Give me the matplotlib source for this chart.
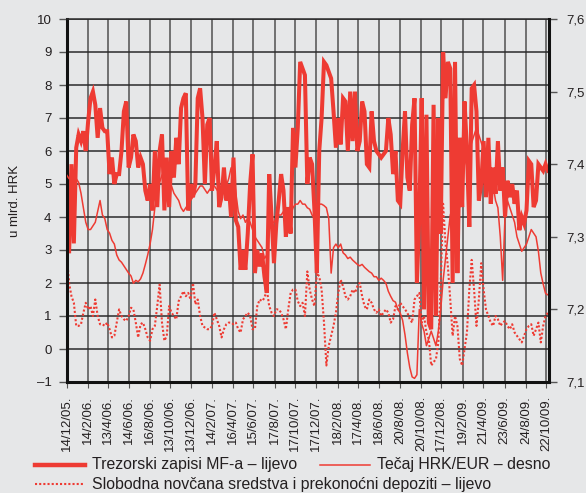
import matplotlib
matplotlib.use('Agg')
import matplotlib.pyplot as plt
import matplotlib.dates as mdates
from matplotlib.lines import Line2D
from matplotlib.ticker import FixedLocator, FuncFormatter
import pandas as pd

plt.rcParams['font.family'] = ['Liberation Sans', 'DejaVu Sans']

# ---------------- data (weekly observations from 14/12/2005) ----------------
start_date = '2005-12-14'

treasury_bills = [  # Trezorski zapisi MF-a, bn HRK (left axis)
    5.7, 2.9, 5.6, 3.2, 6.1, 6.5, 6.3, 6.6, 6.0, 6.9,
    7.6, 7.8, 7.4, 6.4, 7.3, 6.7, 6.6, 6.6, 5.3, 5.8,
    5.0, 5.3, 5.3, 6.0, 7.2, 7.5, 5.5, 5.8, 6.5, 6.3,
    5.5, 5.8, 5.6, 4.8, 4.5, 5.0, 4.2, 6.0, 4.3, 6.0,
    6.5, 4.2, 5.8, 4.3, 6.0, 5.2, 6.4, 5.6, 7.3, 7.6,
    7.75, 4.2, 5.0, 4.6, 5.0, 7.6, 7.9, 7.0, 5.0, 6.8,
    7.0, 4.8, 5.5, 6.3, 4.3, 4.6, 5.5, 4.5, 5.0, 4.0,
    5.8, 3.9, 3.7, 2.4, 3.0, 2.4, 3.5, 5.0, 5.9, 2.3,
    3.0, 2.5, 2.9, 2.2, 1.7, 5.3, 4.0, 2.6, 3.8, 4.5,
    5.3, 4.8, 3.4, 4.3, 3.5, 6.7, 5.5, 6.7, 8.7, 8.5,
    8.3, 5.0, 5.8, 5.6, 4.2, 2.3, 6.0, 7.0, 8.7, 8.6,
    8.4, 8.2, 7.2, 6.1, 7.0, 6.2, 7.6, 7.5, 6.0, 7.8,
    6.3, 7.8, 6.0, 6.3, 7.5, 7.2, 5.6, 5.5, 7.2, 6.3,
    6.0, 5.9, 5.8, 5.9, 6.0, 7.0, 6.5, 5.3, 6.0, 4.5,
    4.4, 6.0, 7.2, 5.2, 4.8, 6.8, 7.6, 2.0, 4.0, 7.6,
    1.2, 7.1, 0.8, 0.6, 7.4, 1.0, 7.0, 3.5, 9.0, 7.6,
    8.7, 8.5, 2.0, 8.7, 2.3, 6.4, 4.3, 7.5, 6.0, 3.7,
    7.9, 8.0, 7.2, 4.5, 5.0, 6.3, 4.6, 6.4, 4.4, 5.5,
    4.7, 6.3, 4.8, 5.5, 4.0, 5.1, 4.6, 5.0, 4.4, 4.8,
    3.6, 4.0, 3.8, 4.2, 5.7, 5.6, 4.3, 4.5, 5.6, 5.5,
    5.4, 5.6, 5.4,
]

hrk_eur = [  # Tečaj HRK/EUR (right axis)
    7.385, 7.380, 7.380, 7.382, 7.380, 7.375, 7.360, 7.340, 7.320, 7.310,
    7.310, 7.315, 7.320, 7.335, 7.350, 7.330, 7.325, 7.310, 7.305, 7.295,
    7.290, 7.275, 7.268, 7.265, 7.260, 7.255, 7.250, 7.246, 7.236, 7.240,
    7.238, 7.242, 7.250, 7.262, 7.275, 7.290, 7.310, 7.340, 7.360, 7.375,
    7.385, 7.390, 7.380, 7.375, 7.370, 7.360, 7.355, 7.350, 7.340, 7.335,
    7.340, 7.345, 7.350, 7.355, 7.360, 7.365, 7.370, 7.370, 7.365, 7.360,
    7.365, 7.370, 7.370, 7.365, 7.360, 7.360, 7.365, 7.370, 7.380, 7.395,
    7.390, 7.360, 7.335, 7.325, 7.330, 7.320, 7.325, 7.320, 7.310, 7.300,
    7.295, 7.290, 7.285, 7.270, 7.275, 7.310, 7.320, 7.320, 7.325, 7.330,
    7.330, 7.335, 7.330, 7.325, 7.330, 7.340, 7.345, 7.345, 7.350, 7.345,
    7.345, 7.340, 7.338, 7.330, 7.325, 7.330, 7.345, 7.345, 7.343, 7.340,
    7.325, 7.250, 7.285, 7.290, 7.285, 7.290, 7.278, 7.275, 7.270, 7.272,
    7.268, 7.265, 7.262, 7.260, 7.262, 7.258, 7.255, 7.252, 7.250, 7.245,
    7.245, 7.240, 7.243, 7.240, 7.236, 7.225, 7.218, 7.212, 7.210, 7.200,
    7.195, 7.185, 7.165, 7.140, 7.120, 7.107, 7.105, 7.110, 7.200, 7.180,
    7.170, 7.150, 7.160, 7.170, 7.160, 7.150, 7.170, 7.200, 7.240, 7.270,
    7.300, 7.330, 7.340, 7.360, 7.370, 7.380, 7.390, 7.400, 7.410, 7.420,
    7.430, 7.440, 7.450, 7.440, 7.430, 7.420, 7.410, 7.400, 7.385, 7.370,
    7.350, 7.340, 7.300, 7.240, 7.330, 7.350, 7.340, 7.330, 7.320, 7.300,
    7.290, 7.280, 7.285, 7.290, 7.300, 7.310, 7.305, 7.300, 7.280, 7.250,
    7.235, 7.222, 7.220,
]

free_reserves = [  # Slobodna novčana sredstva i prekonoćni depoziti (left axis)
    2.9, 2.0, 1.6, 1.4, 0.7, 0.7, 0.75, 1.1, 1.4, 1.2,
    1.3, 1.0, 1.5, 1.0, 0.75, 0.75, 0.7, 0.8, 0.6, 0.35,
    0.4, 0.8, 1.2, 1.0, 0.9, 0.85, 1.0, 1.25, 1.2, 0.8,
    0.35, 0.75, 0.8, 0.6, 0.35, 0.25, 0.6, 0.7, 1.3, 1.95,
    0.8, 0.25, 0.4, 1.3, 1.1, 1.0, 0.9, 1.45, 1.6, 1.75,
    1.6, 1.7, 1.5, 2.0, 1.35, 1.5, 1.0, 0.7, 0.65, 0.6,
    0.6, 0.7, 1.1, 0.9, 0.7, 0.35, 0.6, 0.75, 0.8, 0.8,
    0.75, 0.8, 0.6, 0.5, 0.9, 1.0, 1.1, 1.0, 0.6, 0.6,
    1.3, 1.5, 1.45, 1.55, 1.8, 1.3, 1.1, 1.0, 1.2, 1.2,
    1.1, 0.9, 0.6, 1.2, 1.7, 1.8, 1.8, 1.45, 1.3, 1.4,
    1.0, 2.35, 1.8, 1.5, 1.3, 2.3, 2.2, 1.8, 0.8, -0.5,
    0.1, 0.4, 0.7, 1.1, 1.7, 2.1, 1.9, 1.6, 1.5, 1.6,
    1.8, 1.7, 1.9, 2.0, 1.6, 1.3, 1.2, 1.5, 1.4, 1.2,
    1.1, 1.2, 1.0, 1.1, 1.2, 1.1, 0.8, 0.9, 1.3, 1.2,
    1.4, 1.3, 1.2, 1.1, 0.9, 0.8, 1.5, 1.6, 1.7, 0.8,
    1.0, 0.5, 0.3, -0.5, -0.4, -0.3, 0.2, 2.0, 4.4, 3.2,
    2.5, 1.5, 0.4, 1.0, 0.7, -0.3, -0.5, 0.0, 0.5, 1.8,
    2.7, 1.8, 0.7, 1.5, 2.6, 1.8, 1.2, 1.0, 0.8, 0.7,
    1.0, 0.9, 0.7, 0.8, 0.85, 0.7, 0.6, 0.75, 0.5, 0.4,
    0.3, 0.2, 0.4, 0.6, 0.7, 0.75, 0.4, 0.6, 0.8, 0.2,
    0.7, 1.0, 1.1,
]

tick_dates = ['2005-12-14', '2006-02-14', '2006-04-13', '2006-06-14', '2006-08-16',
              '2006-10-13', '2006-12-13', '2007-02-14', '2007-04-16', '2007-06-15',
              '2007-08-17', '2007-10-17', '2007-12-17', '2008-02-18', '2008-04-17',
              '2008-06-18', '2008-08-20', '2008-10-20', '2008-12-17', '2009-02-19',
              '2009-04-21', '2009-06-23', '2009-08-24', '2009-10-22']
tick_labels = ['14/12/05.', '14/2/06.', '13/4/06.', '14/6/06.', '16/8/06.', '13/10/06.',
               '13/12/06.', '14/2/07.', '16/4/07.', '15/6/07.', '17/8/07.', '17/10/07.',
               '17/12/07.', '18/2/08.', '17/4/08.', '18/6/08.', '20/8/08.', '20/10/08.',
               '17/12/08.', '19/2/09.', '21/4/09.', '23/6/09.', '24/8/09.', '22/10/09.']
end_date = '2009-11-01'

left_ticks = list(range(-1, 11))
right_ticks = [7.1, 7.2, 7.3, 7.4, 7.5, 7.6]

label_tb = 'Trezorski zapisi MF-a – lijevo'
label_fx = 'Tečaj HRK/EUR – desno'
label_fr = 'Slobodna novčana sredstva i prekonoćni depoziti – lijevo'

# ---------------- styling ----------------
BG = '#e6e7e8'
RED = '#ee3b33'
TXT = '#231f20'
W, H = 586, 493

dates = pd.date_range(start_date, periods=len(treasury_bills), freq='7D')
x = mdates.date2num(dates)

fig = plt.figure(figsize=(W / 100, H / 100), dpi=100, facecolor=BG)
L, R, T, B = 66.7, 549.3, 19, 382
ax = fig.add_axes([L / W, 1 - B / H, (R - L) / W, (B - T) / H])
ax.set_facecolor(BG)
ax.set_axisbelow(True)

ax.set_xlim(mdates.date2num(pd.Timestamp(start_date)), mdates.date2num(pd.Timestamp(end_date)))
ax.set_ylim(-1, 10)
ax.yaxis.set_major_locator(FixedLocator(left_ticks))
ax.yaxis.set_major_formatter(FuncFormatter(lambda v, p: ('\u2013%d' % -v) if v < 0 else '%d' % v))
tick_pos = [mdates.date2num(pd.Timestamp(d)) for d in tick_dates]
ax.set_xticks(tick_pos)
ax.set_xticklabels(tick_labels, rotation=90, ha='center', va='top')

ax.grid(axis='y', color='#2b2b2b', lw=1.1)
ax.grid(axis='x', color='#505050', lw=1.1)

for s in ['left', 'bottom']:
    ax.spines[s].set_linewidth(2.2)
    ax.spines[s].set_color('#111111')
ax.spines['right'].set_visible(False)
ax.spines['top'].set_linewidth(1.1)
ax.spines['top'].set_color('#2b2b2b')

ax.tick_params(axis='y', length=6, width=1, color='#555555', pad=5,
               labelsize=9.5, labelcolor=TXT)
ax.tick_params(axis='x', length=4, width=0.8, color='#555555', pad=6,
               labelsize=9.5, labelcolor=TXT)
ax.set_ylabel('u mlrd. HRK', fontsize=9.5, color=TXT)
ax.yaxis.set_label_coords(-0.095, 0.5)

ax.plot(x, free_reserves, color=RED, lw=1.5, ls=(0, (1, 1)))
ax.plot(x, treasury_bills, color=RED, lw=2.9, solid_joinstyle='miter')

ax2 = ax.twinx()
ax2.set_ylim(7.1, 7.6)
ax2.yaxis.set_major_locator(FixedLocator(right_ticks))
ax2.yaxis.set_major_formatter(FuncFormatter(lambda v, p: ('%.1f' % v).replace('.', ',')))
for s in ['left', 'top', 'bottom']:
    ax2.spines[s].set_visible(False)
ax2.spines['right'].set_linewidth(2.2)
ax2.spines['right'].set_color('#111111')
ax2.tick_params(axis='y', length=6, width=1, color='#555555', pad=6,
                labelsize=9.5, labelcolor=TXT)
ax2.plot(x, hrk_eur, color=RED, lw=1.1)

# ---------------- legend ----------------
def fy(py):
    return 1 - py / H

r1, r2 = 465, 484
fig.add_artist(Line2D([35 / W, 85 / W], [fy(r1), fy(r1)], color=RED, lw=3.2))
fig.text(92 / W, fy(r1), label_tb, fontsize=11.4, color=TXT, va='center', ha='left')
fig.add_artist(Line2D([320 / W, 370 / W], [fy(r1), fy(r1)], color=RED, lw=1.1))
fig.text(377 / W, fy(r1), label_fx, fontsize=11.4, color=TXT, va='center', ha='left')
fig.add_artist(Line2D([35 / W, 85 / W], [fy(r2), fy(r2)], color=RED, lw=1.5, ls=(0, (1, 1))))
fig.text(92 / W, fy(r2), label_fr, fontsize=11.4, color=TXT, va='center', ha='left')

fig.savefig('out.png', dpi=100, facecolor=BG)
